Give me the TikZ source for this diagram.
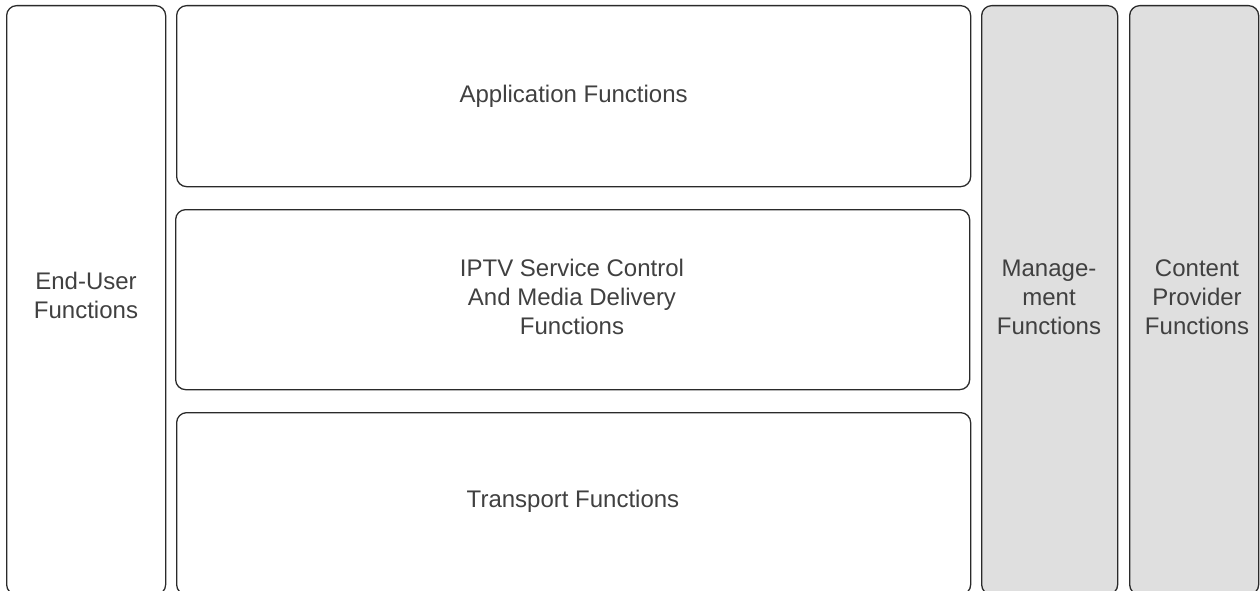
\documentclass[tikz,border=0pt]{standalone}
\usepackage{fontspec}
\setmainfont{Liberation Sans}
\definecolor{txt}{HTML}{404040}
\definecolor{edge}{HTML}{2A2A2A}
\definecolor{grayfill}{HTML}{DFDFDF}
\begin{document}
\begin{tikzpicture}[x=1pt,y=1pt,
  fbox/.style={draw=edge, line width=1.3pt, rounded corners=10pt, inner sep=0pt,
    anchor=north west, text=txt, align=center,
    font=\fontsize{24}{29}\selectfont},
  gbox/.style={fbox, fill=grayfill},
  lbl/.style={text=txt, align=center, font=\fontsize{24}{29}\selectfont}]
\useasboundingbox (0,0) rectangle (1260,-591);
\clip (0,0) rectangle (1260,-591);
\node[fbox, minimum width=159pt, minimum height=589pt] (eu) at (6,-5) {};
\node[lbl] (eut) at (86,-295) {End-User\\Functions};
\node[fbox, minimum width=794pt, minimum height=181pt] (app) at (176,-5) {Application Functions};
\node[fbox, minimum width=794pt, minimum height=180pt] (iptv) at (175,-209) {};
\node[lbl] (iptvt) at (572,-297) {IPTV Service Control\\And Media Delivery\\Functions};
\node[fbox, minimum width=794pt, minimum height=182pt] (tr) at (176,-412) {};
\node[lbl] (trt) at (573,-501) {Transport Functions};
\node[gbox, minimum width=136pt, minimum height=589pt] (mg) at (981,-5) {};
\node[lbl] (mgt) at (1049,-297) {Manage-\\ment\\Functions};
\node[gbox, minimum width=129pt, minimum height=589pt] (cp) at (1129,-5) {};
\node[lbl] (cpt) at (1197,-297) {Content\\Provider\\Functions};
\end{tikzpicture}
\end{document}
